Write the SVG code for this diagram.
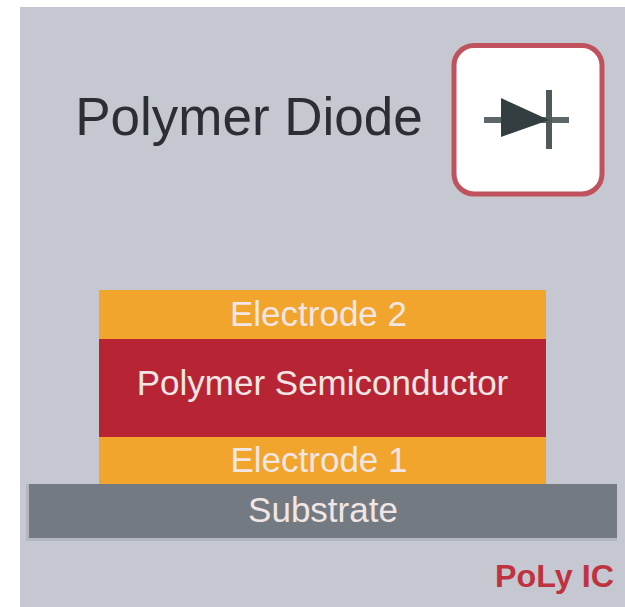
<svg xmlns="http://www.w3.org/2000/svg" width="625" height="607" viewBox="0 0 625 607">
<style>
.t{font-family:"Liberation Sans",Arial,sans-serif;text-anchor:middle}
.w{fill:#f1e6e4;font-size:35px}
</style>
<rect width="625" height="607" fill="#fff"/>
<rect id="background" x="20" y="7" width="605" height="600" fill="#c5c8d0"/>
<g id="title"><text class="t" x="249" y="135" font-size="53" fill="#2b2f33">Polymer Diode</text></g>
<g id="diode-symbol">
<rect x="454" y="45.500" width="148" height="148.500" rx="20" fill="#fff" stroke="#c0525d" stroke-width="5"/>
<path d="M484 120H569" stroke="#5d6668" stroke-width="6"/>
<path d="M549 90V149" stroke="#4f595b" stroke-width="6"/>
<path d="M501 98L549 120L501 137Z" fill="#323e40"/>
</g>
<g id="electrode-2"><rect x="99" y="290" width="447" height="49" fill="#f1a52c"/><text class="t w" x="318.500" y="326">Electrode 2</text></g>
<g id="polymer-semiconductor"><rect x="99" y="339" width="447" height="98" fill="#b72534"/><text class="t w" x="322.500" y="395">Polymer Semiconductor</text></g>
<g id="electrode-1"><rect x="99" y="437" width="447" height="47" fill="#f1a52c"/><text class="t w" x="319" y="472">Electrode 1</text></g>
<g id="substrate"><rect x="26" y="484" width="591" height="57" fill="#b4b7bf"/><rect x="29" y="484" width="588" height="54" fill="#747a81"/><text class="t w" x="323" y="522">Substrate</text></g>
<g id="logo"><text x="495" y="587" font-family="'Liberation Sans',Arial,sans-serif" font-size="31" font-weight="700" fill="#bf3341" textLength="119" lengthAdjust="spacingAndGlyphs">PoLy IC</text></g>
</svg>
